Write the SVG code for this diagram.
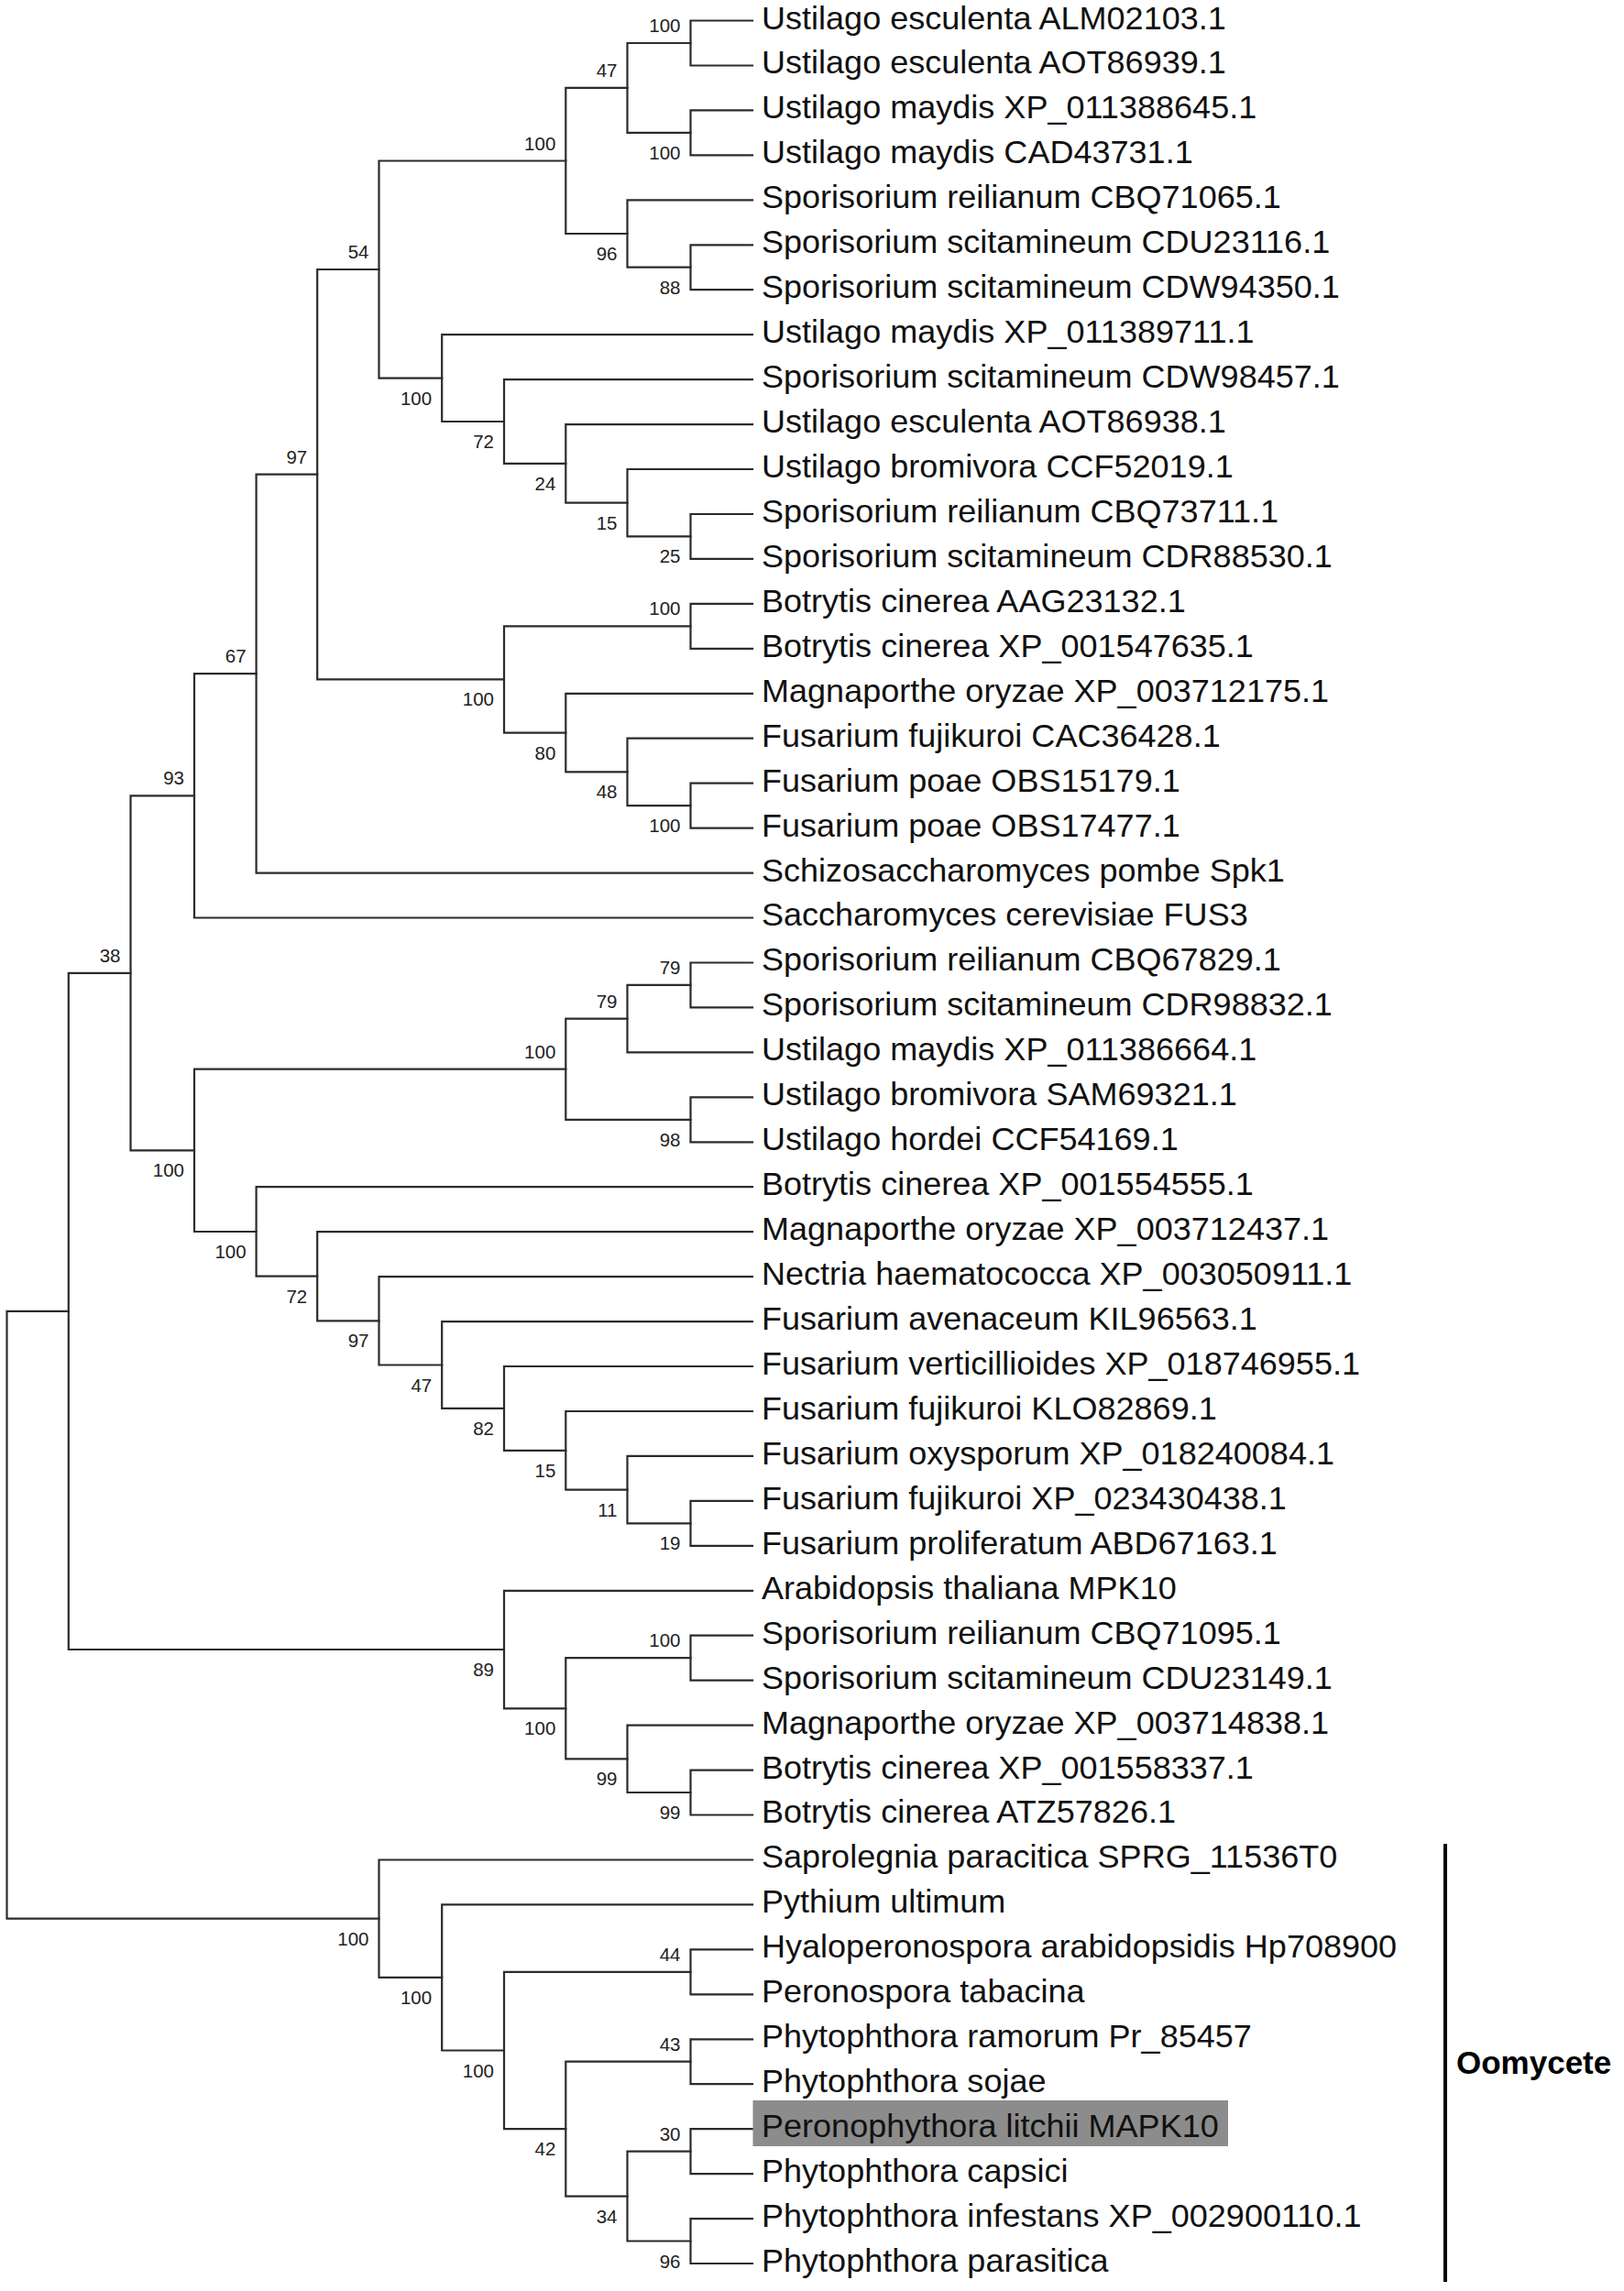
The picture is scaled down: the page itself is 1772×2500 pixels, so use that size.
<svg xmlns="http://www.w3.org/2000/svg" width="1772" height="2500" viewBox="0 0 1772 2500">
<style>
.br{fill:none;stroke:#2b2b2b;stroke-width:2.2;stroke-linecap:square}
.tip{font-family:"Liberation Sans",Arial,sans-serif;font-size:35px;fill:#111;transform:scaleX(1.03);transform-origin:831px 0px}
.bs{font-family:"Liberation Sans",Arial,sans-serif;font-size:20.5px;fill:#222;text-anchor:end}
.clade{font-family:"Liberation Sans",Arial,sans-serif;font-size:35px;font-weight:bold;fill:#000}
</style>
<rect width="1772" height="2500" fill="#fff"/>
<g id="connectors">
<path class="br" d="M821 22.5 H753.5 V71.5 H821"/>
<path class="br" d="M821 120.4 H753.5 V169.4 H821"/>
<path class="br" d="M753.5 47 H684.5 V144.9 H753.5"/>
<path class="br" d="M821 267.3 H753.5 V316.2 H821"/>
<path class="br" d="M821 218.3 H684.5 V291.7 H753.5"/>
<path class="br" d="M684.5 95.9 H617.3 V255 H684.5"/>
<path class="br" d="M821 561 H753.5 V609.9 H821"/>
<path class="br" d="M821 512 H684.5 V585.4 H753.5"/>
<path class="br" d="M821 463.1 H617.3 V548.7 H684.5"/>
<path class="br" d="M821 414.1 H550 V505.9 H617.3"/>
<path class="br" d="M821 365.2 H482.2 V460 H550"/>
<path class="br" d="M617.3 175.5 H413.5 V412.6 H482.2"/>
<path class="br" d="M821 658.9 H753.5 V707.8 H821"/>
<path class="br" d="M821 854.7 H753.5 V903.6 H821"/>
<path class="br" d="M821 805.7 H684.5 V879.1 H753.5"/>
<path class="br" d="M821 756.8 H617.3 V842.4 H684.5"/>
<path class="br" d="M753.5 683.3 H550 V799.6 H617.3"/>
<path class="br" d="M413.5 294 H346.2 V741.4 H550"/>
<path class="br" d="M346.2 517.7 H279.6 V952.6 H821"/>
<path class="br" d="M279.6 735.1 H212 V1001.5 H821"/>
<path class="br" d="M821 1050.5 H753.5 V1099.4 H821"/>
<path class="br" d="M753.5 1074.9 H684.5 V1148.4 H821"/>
<path class="br" d="M821 1197.3 H753.5 V1246.3 H821"/>
<path class="br" d="M684.5 1111.6 H617.3 V1221.8 H753.5"/>
<path class="br" d="M821 1637.9 H753.5 V1686.8 H821"/>
<path class="br" d="M821 1588.9 H684.5 V1662.3 H753.5"/>
<path class="br" d="M821 1540 H617.3 V1625.6 H684.5"/>
<path class="br" d="M821 1491 H550 V1582.8 H617.3"/>
<path class="br" d="M821 1442.1 H482.2 V1536.9 H550"/>
<path class="br" d="M821 1393.1 H413.5 V1489.5 H482.2"/>
<path class="br" d="M821 1344.2 H346.2 V1441.3 H413.5"/>
<path class="br" d="M821 1295.2 H279.6 V1392.7 H346.2"/>
<path class="br" d="M617.3 1166.7 H212 V1344 H279.6"/>
<path class="br" d="M212 868.3 H142.5 V1255.3 H212"/>
<path class="br" d="M821 1784.7 H753.5 V1833.7 H821"/>
<path class="br" d="M821 1931.6 H753.5 V1980.5 H821"/>
<path class="br" d="M821 1882.6 H684.5 V1956 H753.5"/>
<path class="br" d="M753.5 1809.2 H617.3 V1919.3 H684.5"/>
<path class="br" d="M821 1735.8 H550 V1864.3 H617.3"/>
<path class="br" d="M142.5 1061.8 H74.8 V1800 H550"/>
<path class="br" d="M821 2127.4 H753.5 V2176.3 H821"/>
<path class="br" d="M821 2225.3 H753.5 V2274.2 H821"/>
<path class="br" d="M821 2323.2 H753.5 V2372.1 H821"/>
<path class="br" d="M821 2421.1 H753.5 V2470 H821"/>
<path class="br" d="M753.5 2347.6 H684.5 V2445.5 H753.5"/>
<path class="br" d="M753.5 2249.7 H617.3 V2396.6 H684.5"/>
<path class="br" d="M753.5 2151.8 H550 V2323.2 H617.3"/>
<path class="br" d="M821 2078.4 H482.2 V2237.5 H550"/>
<path class="br" d="M821 2029.5 H413.5 V2157.9 H482.2"/>
<path class="br" d="M74.8 1430.9 H7.5 V2093.7 H413.5"/>
</g>
<g id="internal-nodes">
<g id="nA"><text class="bs" x="742.5" y="35">100</text></g>
<g id="nB"><text class="bs" x="742.5" y="173.9">100</text></g>
<g id="nC"><text class="bs" x="673.5" y="83.9">47</text></g>
<g id="nF"><text class="bs" x="742.5" y="320.7">88</text></g>
<g id="nE"><text class="bs" x="673.5" y="284">96</text></g>
<g id="nD"><text class="bs" x="606.3" y="163.5">100</text></g>
<g id="nM"><text class="bs" x="742.5" y="614.4">25</text></g>
<g id="nK"><text class="bs" x="673.5" y="577.7">15</text></g>
<g id="nJ"><text class="bs" x="606.3" y="534.9">24</text></g>
<g id="nI"><text class="bs" x="539" y="489">72</text></g>
<g id="nH"><text class="bs" x="471.2" y="441.6">100</text></g>
<g id="nG"><text class="bs" x="402.5" y="282">54</text></g>
<g id="nP"><text class="bs" x="742.5" y="671.3">100</text></g>
<g id="nS"><text class="bs" x="742.5" y="908.1">100</text></g>
<g id="nR"><text class="bs" x="673.5" y="871.4">48</text></g>
<g id="nQ"><text class="bs" x="606.3" y="828.6">80</text></g>
<g id="nO"><text class="bs" x="539" y="770.4">100</text></g>
<g id="nN"><text class="bs" x="335.2" y="505.7">97</text></g>
<g id="nT"><text class="bs" x="268.6" y="723.1">67</text></g>
<g id="nU"><text class="bs" x="201" y="856.3">93</text></g>
<g id="nAB"><text class="bs" x="742.5" y="1062.9">79</text></g>
<g id="nZ"><text class="bs" x="673.5" y="1099.6">79</text></g>
<g id="nAA"><text class="bs" x="742.5" y="1250.8">98</text></g>
<g id="nX"><text class="bs" x="606.3" y="1154.7">100</text></g>
<g id="nAI"><text class="bs" x="742.5" y="1691.3">19</text></g>
<g id="nAH"><text class="bs" x="673.5" y="1654.6">11</text></g>
<g id="nAG"><text class="bs" x="606.3" y="1611.8">15</text></g>
<g id="nAF"><text class="bs" x="539" y="1565.9">82</text></g>
<g id="nAE"><text class="bs" x="471.2" y="1518.5">47</text></g>
<g id="nAD"><text class="bs" x="402.5" y="1470.3">97</text></g>
<g id="nAC"><text class="bs" x="335.2" y="1421.7">72</text></g>
<g id="nY"><text class="bs" x="268.6" y="1373">100</text></g>
<g id="nW"><text class="bs" x="201" y="1284.3">100</text></g>
<g id="nV"><text class="bs" x="131.5" y="1049.8">38</text></g>
<g id="nAM"><text class="bs" x="742.5" y="1797.2">100</text></g>
<g id="nAO"><text class="bs" x="742.5" y="1985">99</text></g>
<g id="nAN"><text class="bs" x="673.5" y="1948.3">99</text></g>
<g id="nAL"><text class="bs" x="606.3" y="1893.3">100</text></g>
<g id="nAK"><text class="bs" x="539" y="1829">89</text></g>
<g id="nAS"><text class="bs" x="742.5" y="2139.8">44</text></g>
<g id="nAU"><text class="bs" x="742.5" y="2237.7">43</text></g>
<g id="nAW"><text class="bs" x="742.5" y="2335.6">30</text></g>
<g id="nAX"><text class="bs" x="742.5" y="2474.5">96</text></g>
<g id="nAV"><text class="bs" x="673.5" y="2425.6">34</text></g>
<g id="nAT"><text class="bs" x="606.3" y="2352.2">42</text></g>
<g id="nAR"><text class="bs" x="539" y="2266.5">100</text></g>
<g id="nAQ"><text class="bs" x="471.2" y="2186.9">100</text></g>
<g id="nAP"><text class="bs" x="402.5" y="2122.7">100</text></g>
</g>
<g id="leaves">
<g id="t1"><text class="tip" x="831" y="31.5">Ustilago esculenta ALM02103.1</text></g>
<g id="t2"><text class="tip" x="831" y="80.5">Ustilago esculenta AOT86939.1</text></g>
<g id="t3"><text class="tip" x="831" y="129.4">Ustilago maydis XP_011388645.1</text></g>
<g id="t4"><text class="tip" x="831" y="178.4">Ustilago maydis CAD43731.1</text></g>
<g id="t5"><text class="tip" x="831" y="227.3">Sporisorium reilianum CBQ71065.1</text></g>
<g id="t6"><text class="tip" x="831" y="276.3">Sporisorium scitamineum CDU23116.1</text></g>
<g id="t7"><text class="tip" x="831" y="325.2">Sporisorium scitamineum CDW94350.1</text></g>
<g id="t8"><text class="tip" x="831" y="374.2">Ustilago maydis XP_011389711.1</text></g>
<g id="t9"><text class="tip" x="831" y="423.1">Sporisorium scitamineum CDW98457.1</text></g>
<g id="t10"><text class="tip" x="831" y="472.1">Ustilago esculenta AOT86938.1</text></g>
<g id="t11"><text class="tip" x="831" y="521">Ustilago bromivora CCF52019.1</text></g>
<g id="t12"><text class="tip" x="831" y="570">Sporisorium reilianum CBQ73711.1</text></g>
<g id="t13"><text class="tip" x="831" y="618.9">Sporisorium scitamineum CDR88530.1</text></g>
<g id="t14"><text class="tip" x="831" y="667.9">Botrytis cinerea AAG23132.1</text></g>
<g id="t15"><text class="tip" x="831" y="716.8">Botrytis cinerea XP_001547635.1</text></g>
<g id="t16"><text class="tip" x="831" y="765.8">Magnaporthe oryzae XP_003712175.1</text></g>
<g id="t17"><text class="tip" x="831" y="814.7">Fusarium fujikuroi CAC36428.1</text></g>
<g id="t18"><text class="tip" x="831" y="863.7">Fusarium poae OBS15179.1</text></g>
<g id="t19"><text class="tip" x="831" y="912.6">Fusarium poae OBS17477.1</text></g>
<g id="t20"><text class="tip" x="831" y="961.6">Schizosaccharomyces pombe Spk1</text></g>
<g id="t21"><text class="tip" x="831" y="1010.5">Saccharomyces cerevisiae FUS3</text></g>
<g id="t22"><text class="tip" x="831" y="1059.5">Sporisorium reilianum CBQ67829.1</text></g>
<g id="t23"><text class="tip" x="831" y="1108.4">Sporisorium scitamineum CDR98832.1</text></g>
<g id="t24"><text class="tip" x="831" y="1157.4">Ustilago maydis XP_011386664.1</text></g>
<g id="t25"><text class="tip" x="831" y="1206.3">Ustilago bromivora SAM69321.1</text></g>
<g id="t26"><text class="tip" x="831" y="1255.3">Ustilago hordei CCF54169.1</text></g>
<g id="t27"><text class="tip" x="831" y="1304.2">Botrytis cinerea XP_001554555.1</text></g>
<g id="t28"><text class="tip" x="831" y="1353.2">Magnaporthe oryzae XP_003712437.1</text></g>
<g id="t29"><text class="tip" x="831" y="1402.1">Nectria haematococca XP_003050911.1</text></g>
<g id="t30"><text class="tip" x="831" y="1451.1">Fusarium avenaceum KIL96563.1</text></g>
<g id="t31"><text class="tip" x="831" y="1500">Fusarium verticillioides XP_018746955.1</text></g>
<g id="t32"><text class="tip" x="831" y="1549">Fusarium fujikuroi KLO82869.1</text></g>
<g id="t33"><text class="tip" x="831" y="1597.9">Fusarium oxysporum XP_018240084.1</text></g>
<g id="t34"><text class="tip" x="831" y="1646.9">Fusarium fujikuroi XP_023430438.1</text></g>
<g id="t35"><text class="tip" x="831" y="1695.8">Fusarium proliferatum ABD67163.1</text></g>
<g id="t36"><text class="tip" x="831" y="1744.8">Arabidopsis thaliana MPK10</text></g>
<g id="t37"><text class="tip" x="831" y="1793.7">Sporisorium reilianum CBQ71095.1</text></g>
<g id="t38"><text class="tip" x="831" y="1842.7">Sporisorium scitamineum CDU23149.1</text></g>
<g id="t39"><text class="tip" x="831" y="1891.6">Magnaporthe oryzae XP_003714838.1</text></g>
<g id="t40"><text class="tip" x="831" y="1940.6">Botrytis cinerea XP_001558337.1</text></g>
<g id="t41"><text class="tip" x="831" y="1989.5">Botrytis cinerea ATZ57826.1</text></g>
<g id="t42"><text class="tip" x="831" y="2038.5">Saprolegnia paracitica SPRG_11536T0</text></g>
<g id="t43"><text class="tip" x="831" y="2087.4">Pythium ultimum</text></g>
<g id="t44"><text class="tip" x="831" y="2136.4">Hyaloperonospora arabidopsidis Hp708900</text></g>
<g id="t45"><text class="tip" x="831" y="2185.3">Peronospora tabacina</text></g>
<g id="t46"><text class="tip" x="831" y="2234.3">Phytophthora ramorum Pr_85457</text></g>
<g id="t47"><text class="tip" x="831" y="2283.2">Phytophthora sojae</text></g>
<g id="t48"><rect x="821.5" y="2292" width="518.5" height="50" fill="#8c8c8c"/><text class="tip" x="831" y="2332.2">Peronophythora litchii MAPK10</text></g>
<g id="t49"><text class="tip" x="831" y="2381.1">Phytophthora capsici</text></g>
<g id="t50"><text class="tip" x="831" y="2430.1">Phytophthora infestans XP_002900110.1</text></g>
<g id="t51"><text class="tip" x="831" y="2479">Phytophthora parasitica</text></g>
</g>
<g id="oomycete-bracket">
<line x1="1577" y1="2012" x2="1577" y2="2490" stroke="#000" stroke-width="4"/>
<text class="clade" x="1589" y="2263">Oomycete</text>
</g>
</svg>
